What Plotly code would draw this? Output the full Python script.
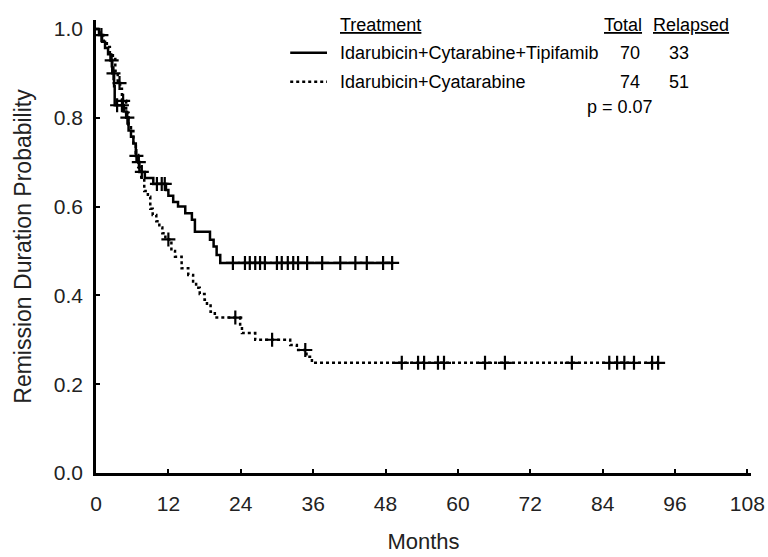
import numpy as np
import plotly.graph_objects as go

# ---- Data ----
tip_t = [0, 0.5, 1.0, 1.5, 2.0, 2.4, 2.7, 3.0, 3.1, 4.6, 5.0, 5.4, 5.8, 6.2, 6.6, 7.0, 7.2,
         8.1, 9.5, 11.6, 12.0, 12.8, 13.6, 14.8, 15.9, 16.4, 18.9, 19.5, 20.0, 20.6, 49.3]
tip_s = [1.0, 0.986, 0.971, 0.957, 0.943, 0.929, 0.900, 0.871, 0.828, 0.814, 0.800, 0.771, 0.757,
         0.742, 0.714, 0.700, 0.678, 0.664, 0.651, 0.637, 0.624, 0.610, 0.600, 0.585, 0.570, 0.543,
         0.525, 0.510, 0.491, 0.473, 0.473]
tip_cens = [0.9, 2.6, 2.9, 3.5, 4.3, 5.2, 6.7, 7.1, 7.6, 10.1, 10.9, 11.4,
            22.7, 24.7, 25.5, 26.4, 27.2, 28.0, 30.0, 30.8, 31.8, 32.7, 33.5, 35.0,
            37.5, 40.5, 43.0, 44.9, 47.6, 49.1]

ctl_t = [0, 0.6, 1.2, 1.8, 2.3, 2.8, 3.2, 3.6, 4.0, 4.3, 5.0, 5.4, 5.8, 6.2, 6.6, 7.0, 7.5, 8.0,
         8.6, 9.0, 9.4, 10.0, 10.5, 11.0, 11.5, 12.5, 13.1, 14.2, 15.3, 16.1, 16.6, 17.2, 18.0,
         18.4, 19.0, 19.7, 23.9, 24.2, 26.4, 32.2, 33.3, 34.9, 35.8, 93.5]
ctl_s = [1.0, 0.986, 0.973, 0.959, 0.946, 0.932, 0.905, 0.878, 0.865, 0.838, 0.811, 0.784, 0.770,
         0.743, 0.716, 0.689, 0.662, 0.635, 0.622, 0.595, 0.581, 0.567, 0.553, 0.540, 0.526, 0.500,
         0.487, 0.461, 0.446, 0.431, 0.417, 0.403, 0.390, 0.377, 0.363, 0.350, 0.330, 0.315, 0.300,
         0.288, 0.277, 0.262, 0.248, 0.248]
ctl_cens = [3.9, 4.5, 12.0, 23.1, 29.2, 34.7, 50.7, 53.4, 54.4, 56.7, 57.7, 64.5, 67.8,
            78.9, 85.1, 86.4, 87.6, 89.2, 92.2, 93.2]

x_ticks = [0, 12, 24, 36, 48, 60, 72, 84, 96, 108]
y_ticks = [0.0, 0.2, 0.4, 0.6, 0.8, 1.0]

legend_rows = [
    ("Idarubicin+Cytarabine+Tipifamib", "solid", "70", "33"),
    ("Idarubicin+Cyatarabine", "dot", "74", "51"),
]
p_text = "p = 0.07"


def step_at(times, surv, q):
    t = np.asarray(times)
    s = np.asarray(surv)
    idx = np.searchsorted(t, np.asarray(q), side="right") - 1
    return s[np.clip(idx, 0, len(s) - 1)]


FONT = "Liberation Sans, Arial, sans-serif"

fig = go.Figure()
for t, s, c, dash in [(tip_t, tip_s, tip_cens, "solid"), (ctl_t, ctl_s, ctl_cens, "dot")]:
    fig.add_trace(go.Scatter(x=t, y=s, mode="lines", line=dict(color="black", width=2.5, dash=dash,
                                                                 shape="hv"),
                             showlegend=False, hoverinfo="skip"))
    fig.add_trace(go.Scatter(x=c, y=step_at(t, s, c), mode="markers",
                             marker=dict(symbol="cross-thin", size=10,
                                         line=dict(color="black", width=2.2)),
                             showlegend=False, hoverinfo="skip"))

# legend-like table
ann = []
hdr_y = 1.009
ann.append(dict(x=40.1, y=hdr_y, text="<u>Treatment</u>", xanchor="left"))
ann.append(dict(x=87.4, y=hdr_y, text="<u>Total</u>", xanchor="center"))
ann.append(dict(x=98.7, y=hdr_y, text="<u>Relapsed</u>", xanchor="center"))
row_y = [0.946, 0.881]
for (label, dash, tot, rel), yy in zip(legend_rows, row_y):
    fig.add_trace(go.Scatter(x=[32.2, 38.3], y=[yy, yy], mode="lines",
                             line=dict(color="black", width=2.5, dash=dash),
                             showlegend=False, hoverinfo="skip"))
    ann.append(dict(x=40.1, y=yy, text=label, xanchor="left"))
    ann.append(dict(x=88.6, y=yy, text=tot, xanchor="center"))
    ann.append(dict(x=96.7, y=yy, text=rel, xanchor="center"))
ann.append(dict(x=86.9, y=0.824, text=p_text, xanchor="center"))
for a in ann:
    a.update(xref="x", yref="y", showarrow=False, yanchor="middle",
             font=dict(family=FONT, size=18, color="black"))

fig.update_layout(
    width=768, height=557,
    margin=dict(l=96, r=17, t=20, b=84),
    paper_bgcolor="white", plot_bgcolor="white",
    annotations=ann,
    xaxis=dict(range=[0, 108.6], tickvals=x_ticks, ticks="inside", ticklen=4, tickwidth=2,
               tickcolor="black", showline=True, linecolor="black", linewidth=2.5,
               showgrid=False, zeroline=False, ticklabelstandoff=10, automargin=False,
               tickfont=dict(family=FONT, size=21, color="#222"),
               title=dict(text="Months", font=dict(family=FONT, size=22, color="#222"), standoff=20)),
    yaxis=dict(range=[0, 1.02], tickvals=y_ticks, ticktext=[f"{v:.1f}" for v in y_ticks],
               ticks="inside", ticklen=4, tickwidth=2, tickcolor="black",
               showline=True, linecolor="black", linewidth=2.5, showgrid=False, zeroline=False,
               ticklabelstandoff=6, automargin=False,
               tickfont=dict(family=FONT, size=21, color="#222"),
               title=dict(text="Remission Duration Probability",
                          font=dict(family=FONT, size=23, color="#222"), standoff=16)),
)

fig.write_html("out.html")
